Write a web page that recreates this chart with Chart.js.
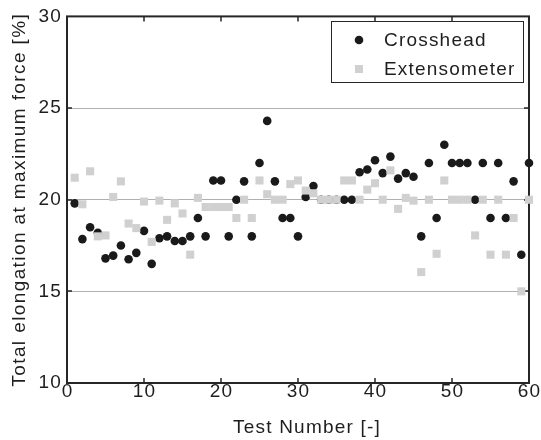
<!DOCTYPE html>
<html>
<head>
<meta charset="utf-8">
<script src="https://cdn.jsdelivr.net/npm/chart.js@4/dist/chart.umd.min.js"></script>
<style>
    html, body { margin: 0; padding: 0; background: #fff; }
</style>
</head>
<body>
<canvas id="grafico-alongamento" width="541" height="440"></canvas>
<script>
// Numero do ensaio (eixo x)
const testes = [1, 2, 3, 4, 5, 6, 7, 8, 9, 10, 11, 12, 13, 14, 15, 16, 17, 18, 19, 20,
    21, 22, 23, 24, 25, 26, 27, 28, 29, 30, 31, 32, 33, 34, 35, 36, 37, 38, 39, 40,
    41, 42, 43, 44, 45, 46, 47, 48, 49, 50, 51, 52, 53, 54, 55, 56, 57, 58, 59, 60]

// Alongamento total na forca maxima [%]
const crosshead = [19.8, 17.85, 18.5, 18.2, 16.8, 16.95, 17.5, 16.75, 17.1, 18.3,
    16.5, 17.9, 18.0, 17.75, 17.75, 18.0, 19.0, 18.0, 21.05, 21.05,
    18.0, 20.0, 21.0, 18.0, 22.0, 24.3, 21.0, 19.0, 19.0, 18.0,
    20.15, 20.75, 20.0, 20.0, 20.0, 20.0, 20.0, 21.5, 21.65, 22.15,
    21.45, 22.35, 21.15, 21.45, 21.25, 18.0, 22.0, 19.0, 23.0, 22.0,
    22.0, 22.0, 20.0, 22.0, 19.0, 22.0, 19.0, 21.0, 17.0, 22.0]

const extensometer = [21.2, 19.75, 21.55, 18.0, 18.05, 20.15, 21.0, 18.7, 18.45, 19.9,
    17.7, 19.95, 18.9, 19.8, 19.25, 17.0, 20.1, 19.6, 19.6, 19.6,
    19.6, 19.0, 20.0, 19.0, 21.05, 20.3, 20.0, 20.0, 20.85, 21.05,
    20.5, 20.35, 20.0, 20.0, 20.0, 21.05, 21.05, 20.0, 20.55, 20.9,
    20.0, 21.6, 19.5, 20.1, 19.95, 16.05, 20.0, 17.05, 21.05, 20.0,
    20.0, 20.0, 18.05, 20.0, 17.0, 20.0, 17.0, 19.0, 15.0, 20.0]

const xTicks = [0, 10, 20, 30, 40, 50, 60]
const yTicks = [10, 15, 20, 25, 30]

const fonte = "'Liberation Sans', Arial, Helvetica, sans-serif"
const corTexto = '#1e1e1e'

// textos com espacamento entre letras (parecido com a figura original)
const espacamentoPlugin = {
    id: 'espacamento',
    beforeDraw(chart) {
        Object.values(chart.scales).forEach(scale => {
            if (scale._comEspaco) return
            const tituloOriginal = scale.drawTitle
            const labelsOriginal = scale.drawLabels
            scale.drawTitle = function () {
                this.ctx.save()
                this.ctx.letterSpacing = this.isHorizontal() ? '1.2px' : '1.4px'
                if (this.isHorizontal()) this.ctx.translate(9, 0)
                tituloOriginal.call(this)
                this.ctx.restore()
            }
            scale.drawLabels = function (area) {
                this.ctx.save()
                this.ctx.letterSpacing = '1.2px'
                if (this.isHorizontal()) this.ctx.translate(0.6, 0)
                labelsOriginal.call(this, area)
                this.ctx.restore()
            }
            scale._comEspaco = true
        })
    }
}

// moldura preta com ticks para dentro + legenda em caixa
const molduraPlugin = {
    id: 'moldura',
    beforeDatasetsDraw(chart) {
        const { ctx, chartArea: a, scales: { x, y } } = chart
        ctx.save()
        ctx.strokeStyle = '#262626'
        ctx.lineWidth = 2
        ctx.strokeRect(a.left, a.top, a.right - a.left, a.bottom - a.top)
        ctx.lineWidth = 1.5
        ctx.beginPath()
        xTicks.slice(1, -1).forEach(v => {
            const px = Math.round(x.getPixelForValue(v))
            ctx.moveTo(px, a.bottom); ctx.lineTo(px, a.bottom - 5)
            ctx.moveTo(px, a.top); ctx.lineTo(px, a.top + 5)
        })
        yTicks.slice(1, -1).forEach(v => {
            const py = Math.round(y.getPixelForValue(v))
            ctx.moveTo(a.left, py); ctx.lineTo(a.left + 5, py)
            ctx.moveTo(a.right, py); ctx.lineTo(a.right - 5, py)
        })
        ctx.stroke()
        ctx.restore()
    },
    afterDraw(chart) {
        const { ctx } = chart
        const caixa = { x: 331.5, y: 21.5, w: 192, h: 61 }
        ctx.save()
        ctx.fillStyle = '#fff'
        ctx.fillRect(caixa.x, caixa.y, caixa.w, caixa.h)
        ctx.strokeStyle = '#262626'
        ctx.lineWidth = 1
        ctx.strokeRect(caixa.x, caixa.y, caixa.w, caixa.h)
        ctx.font = `19px ${fonte}`
        ctx.letterSpacing = '1.2px'
        ctx.textBaseline = 'middle'
        ctx.textAlign = 'left'
        chart.data.datasets.forEach((ds, i) => {
            const cy = 40 + i * 29
            ctx.fillStyle = ds.backgroundColor
            if (ds.pointStyle === 'rect') {
                ctx.fillRect(355, cy - 4, 8, 8)
            } else {
                ctx.beginPath()
                ctx.arc(359, cy, 4.3, 0, Math.PI * 2)
                ctx.fill()
            }
            ctx.fillStyle = corTexto
            ctx.fillText(ds.label, 384, cy + 1)
        })
        ctx.restore()
    }
}

let graficoAlongamento = new Chart(
    document.getElementById('grafico-alongamento'),
    {
        type: 'scatter',
        data: {
            datasets: [{
                label: 'Crosshead',
                data: testes.map((t, i) => ({ x: t, y: crosshead[i] })),
                backgroundColor: '#1a1a1a',
                pointStyle: 'circle',
                pointRadius: 4.3,
                borderWidth: 0,
                clip: false,
                order: 1
            }, {
                label: 'Extensometer',
                data: testes.map((t, i) => ({ x: t, y: extensometer[i] })),
                backgroundColor: '#d0d0d0',
                pointStyle: 'rect',
                pointRadius: 5.7,
                borderWidth: 0,
                clip: false,
                order: 0
            }]
        },
        options: {
            responsive: false,
            animation: false,
            events: [],
            layout: {
                padding: { top: 15, right: 12, bottom: 0, left: 0 }
            },
            scales: {
                x: {
                    type: 'linear',
                    min: 0,
                    max: 60,
                    afterBuildTicks: s => { s.ticks = xTicks.map(v => ({ value: v })) },
                    afterFit: s => { s.height = 57 },
                    ticks: {
                        padding: -3,
                        color: corTexto,
                        font: { family: fonte, size: 19 }
                    },
                    grid: { display: false, drawTicks: false },
                    border: { display: false },
                    title: {
                        display: true,
                        text: 'Test Number [-]',
                        color: corTexto,
                        font: { family: fonte, size: 19 },
                        padding: { top: 0, bottom: 1 }
                    }
                },
                y: {
                    min: 10,
                    max: 30,
                    afterBuildTicks: s => { s.ticks = yTicks.map(v => ({ value: v })) },
                    afterFit: s => { s.width = 67 },
                    ticks: {
                        padding: 5,
                        color: corTexto,
                        font: { family: fonte, size: 19 }
                    },
                    grid: {
                        drawTicks: false,
                        lineWidth: 1,
                        color: c => (c.tick && c.tick.value > 10 && c.tick.value < 30) ? '#b0b0b0' : 'rgba(0,0,0,0)'
                    },
                    border: { display: false },
                    title: {
                        display: true,
                        text: 'Total elongation at maximum force [%]',
                        color: corTexto,
                        font: { family: fonte, size: 19 },
                        padding: { top: 8.6, bottom: 0 }
                    }
                }
            },
            plugins: {
                legend: { display: false },
                tooltip: { enabled: false }
            }
        },
        plugins: [espacamentoPlugin, molduraPlugin]
    }
)
</script>
</body>
</html>
